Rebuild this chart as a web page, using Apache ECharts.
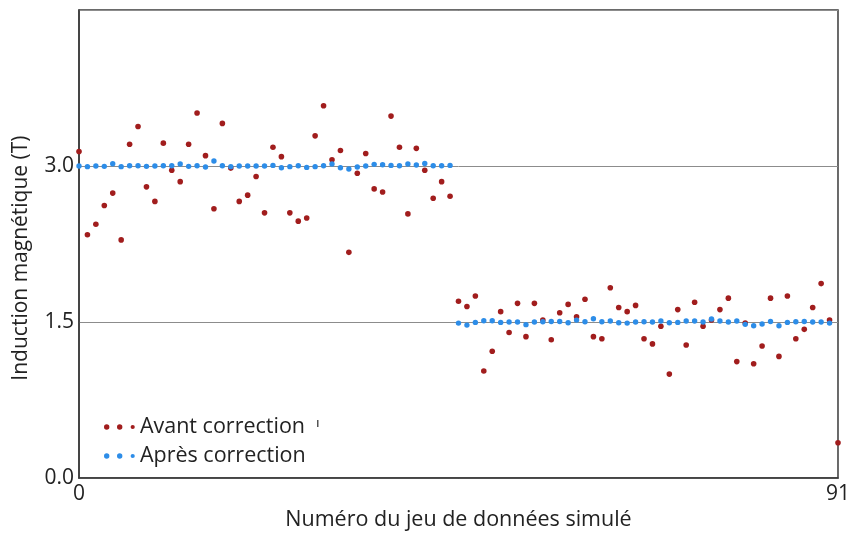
<!DOCTYPE html>
<html>
<head>
<meta charset="utf-8">
<script src="https://cdn.jsdelivr.net/npm/echarts@6/dist/echarts.min.js"></script>
<style>
  html, body { margin: 0; padding: 0; background: #fff; }
  #chart { width: 853px; height: 536px; }
</style>
</head>
<body>
<div id="chart"></div>
<script>
// Magnetic induction per simulated dataset, before and after correction
const avantCorrection = [
  3.14, 2.34, 2.44, 2.62, 2.74, 2.29, 3.21, 3.38, 2.80, 2.66,
  3.22, 2.96, 2.85, 3.21, 3.51, 3.10, 2.59, 3.41, 2.98, 2.66,
  2.72, 2.90, 2.55, 3.18, 3.09, 2.55, 2.47, 2.50, 3.29, 3.58,
  3.06, 3.15, 2.17, 2.93, 3.12, 2.78, 2.75, 3.48, 3.18, 2.54,
  3.17, 2.96, 2.69, 2.85, 2.71,
  1.70, 1.65, 1.75, 1.03, 1.22, 1.60, 1.40, 1.68, 1.36, 1.68,
  1.52, 1.33, 1.59, 1.67, 1.55, 1.72, 1.36, 1.34, 1.83, 1.64,
  1.60, 1.66, 1.34, 1.29, 1.46, 1.00, 1.62, 1.28, 1.69, 1.46,
  1.52, 1.62, 1.73, 1.12, 1.49, 1.10, 1.27, 1.73, 1.17, 1.75,
  1.34, 1.43, 1.64, 1.87, 1.52, 0.34
];
const apresCorrection = [
  3.000, 2.994, 3.000, 2.997, 3.022, 2.994, 3.003, 3.003, 2.997, 3.000,
  3.003, 3.003, 3.019, 2.997, 3.003, 2.990, 3.048, 3.003, 2.994, 3.000,
  3.000, 3.000, 3.000, 3.006, 2.984, 2.994, 3.003, 2.987, 2.994, 3.003,
  3.019, 2.984, 2.971, 2.990, 3.000, 3.016, 3.013, 3.006, 3.003, 3.019,
  3.010, 3.025, 3.003, 3.003, 3.006,
  1.490, 1.471, 1.497, 1.513, 1.513, 1.497, 1.500, 1.500, 1.475, 1.500,
  1.503, 1.506, 1.506, 1.494, 1.519, 1.503, 1.532, 1.503, 1.510, 1.494,
  1.490, 1.500, 1.503, 1.500, 1.510, 1.494, 1.497, 1.510, 1.510, 1.500,
  1.529, 1.510, 1.500, 1.510, 1.478, 1.465, 1.481, 1.506, 1.465, 1.497,
  1.503, 1.506, 1.500, 1.500, 1.490, null
];
const seriesNames = ['Avant correction', 'Après correction'];
const xTickLabels = ['0', '91'];
const yTicks = [0, 1.5, 3.0];

const FONT = '"Open Sans"';
const TEXT = '#222';
const RED = '#a11d1d';
const BLUE = '#2d8de8';

// dataset index runs along the horizontal axis
const toPoints = arr => arr.map((v, i) => [i, v]);

// three-dot legend marker
const dotsIcon = 'path://M0,2.7a2.7,2.7 0 1,0 5.4,0a2.7,2.7 0 1,0 -5.4,0Z' +
  'M13,2.7a2.7,2.7 0 1,0 5.4,0a2.7,2.7 0 1,0 -5.4,0Z' +
  'M26.6,2.7a2.1,2.1 0 1,0 4.2,0a2.1,2.1 0 1,0 -4.2,0Z';

const chart = echarts.init(document.getElementById('chart'), null, { renderer: 'canvas' });
chart.setOption({
  animation: false,
  backgroundColor: '#fff',
  textStyle: { fontFamily: FONT },
  grid: {
    left: 79, right: 12, top: 10, bottom: 56,
    show: true, borderColor: '#3a3a3a', borderWidth: 1.5, backgroundColor: 'transparent'
  },
  legend: {
    orient: 'vertical',
    left: 99, top: 411,
    itemWidth: 31, itemHeight: 5.4, itemGap: 7,
    icon: dotsIcon,
    textStyle: { fontFamily: FONT, fontSize: 21.5, color: TEXT },
    data: seriesNames
  },
  xAxis: {
    type: 'value', min: 0, max: 90, interval: 90,
    name: 'Numéro du jeu de données simulé',
    nameLocation: 'middle', nameGap: 30,
    nameTextStyle: { fontFamily: FONT, fontSize: 21.5, color: TEXT },
    axisLine: { show: true, lineStyle: { color: '#3a3a3a', width: 1.5 } },
    axisTick: { show: false },
    splitLine: { show: false },
    axisLabel: {
      fontFamily: FONT, fontSize: 21, color: TEXT, margin: 5,
      formatter: v => (v === 0 ? xTickLabels[0] : xTickLabels[1])
    }
  },
  yAxis: {
    type: 'value', min: 0, max: 4.5, interval: 1.5,
    name: 'Induction magnétique (T)',
    nameLocation: 'middle', nameGap: 47,
    nameTextStyle: { fontFamily: FONT, fontSize: 21, color: TEXT, padding: [0, 28, 0, 0] },
    axisLine: { show: true, lineStyle: { color: '#3a3a3a', width: 1.5 } },
    axisTick: { show: false },
    splitLine: { show: true, lineStyle: { color: '#8c8c8c', width: 1 } },
    axisLabel: {
      fontFamily: FONT, fontSize: 21, color: TEXT, margin: 5,
      formatter: v => (yTicks.indexOf(v) >= 0 ? v.toFixed(1) : '')
    }
  },
  graphic: [{
    type: 'rect',
    shape: { x: 317, y: 420, width: 1.5, height: 7 },
    style: { fill: '#555' },
    silent: true
  }],
  series: [
    {
      name: seriesNames[0], type: 'scatter',
      data: toPoints(avantCorrection),
      symbolSize: 5.6,
      itemStyle: { color: RED, opacity: 1 },
      z: 2
    },
    {
      name: seriesNames[1], type: 'scatter',
      data: toPoints(apresCorrection),
      symbolSize: 5.4,
      itemStyle: { color: BLUE, opacity: 1 },
      z: 3
    }
  ]
});
</script>
</body>
</html>
